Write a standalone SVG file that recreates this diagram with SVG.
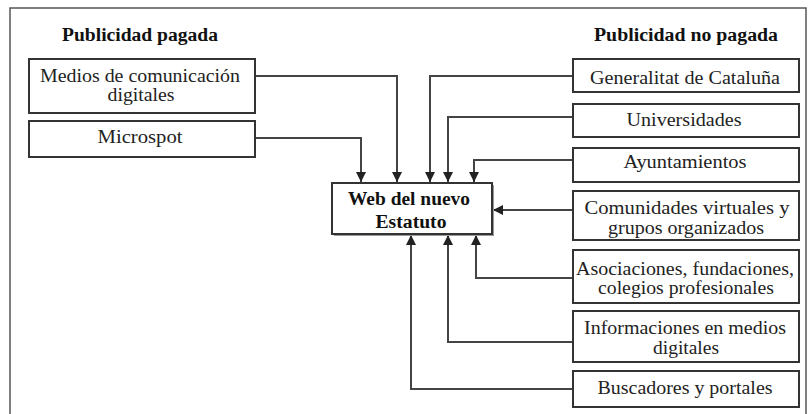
<svg xmlns="http://www.w3.org/2000/svg" width="812" height="414" viewBox="0 0 812 414">
<style>
.box{fill:#fff;stroke:#333;stroke-width:2}
.t{font-family:'Liberation Serif','DejaVu Serif','Times New Roman',serif;font-size:18px;fill:#222;text-anchor:middle}
.b{font-weight:bold;fill:#111}
.c{fill:none;stroke:#444;stroke-width:2}
</style>
<defs>
<marker id="ah" viewBox="0 0 10 10" refX="10" refY="5" markerWidth="5" markerHeight="5" orient="auto" markerUnits="strokeWidth">
<path d="M0,0 L10,5 L0,10 z" fill="#222"/>
</marker>
</defs>
<rect x="0" y="0" width="812" height="414" fill="#fff"/>
<path d="M10,420 V8 H806 V420" fill="none" stroke="#555" stroke-width="1.5"/>
<text class="t b" x="140" y="41" textLength="156" lengthAdjust="spacingAndGlyphs">Publicidad pagada</text>
<text class="t b" x="686" y="41" textLength="184" lengthAdjust="spacingAndGlyphs">Publicidad no pagada</text>
<g id="connectors">
<path class="c" d="M255,76 H397 V182" marker-end="url(#ah)"/>
<path class="c" d="M255,138 H361 V182" marker-end="url(#ah)"/>
<path class="c" d="M573,76 H430 V182" marker-end="url(#ah)"/>
<path class="c" d="M573,117 H448 V182" marker-end="url(#ah)"/>
<path class="c" d="M573,160 H474 V182" marker-end="url(#ah)"/>
<path class="c" d="M573,210 H493" marker-end="url(#ah)"/>
<path class="c" d="M573,278 H476 V235" marker-end="url(#ah)"/>
<path class="c" d="M573,342 H448 V235" marker-end="url(#ah)"/>
<path class="c" d="M573,389 H411 V235" marker-end="url(#ah)"/>
</g>
<g id="medios">
<rect class="box" x="29" y="59" width="226" height="54"/>
<text class="t" x="140" y="82" textLength="200" lengthAdjust="spacingAndGlyphs">Medios de comunicación</text>
<text class="t" x="141" y="101" textLength="67" lengthAdjust="spacingAndGlyphs">digitales</text>
</g>
<g id="microspot">
<rect class="box" x="29" y="121" width="226" height="36"/>
<text class="t" x="140" y="143" textLength="85" lengthAdjust="spacingAndGlyphs">Microspot</text>
</g>
<g id="web">
<rect x="334" y="185" width="160" height="51" fill="#999"/>
<rect class="box" x="332" y="183" width="160" height="51"/>
<text class="t b" x="409" y="205" textLength="122" lengthAdjust="spacingAndGlyphs">Web del nuevo</text>
<text class="t b" x="411" y="228" textLength="71" lengthAdjust="spacingAndGlyphs">Estatuto</text>
</g>
<g id="generalitat">
<rect class="box" x="573" y="59" width="226" height="33"/>
<text class="t" x="685" y="84" textLength="190" lengthAdjust="spacingAndGlyphs">Generalitat de Cataluña</text>
</g>
<g id="universidades">
<rect class="box" x="573" y="104" width="226" height="33"/>
<text class="t" x="684" y="126" textLength="115" lengthAdjust="spacingAndGlyphs">Universidades</text>
</g>
<g id="ayuntamientos">
<rect class="box" x="573" y="148" width="226" height="34"/>
<text class="t" x="685" y="168" textLength="123" lengthAdjust="spacingAndGlyphs">Ayuntamientos</text>
</g>
<g id="comunidades">
<rect class="box" x="573" y="191" width="226" height="49"/>
<text class="t" x="687" y="214" textLength="205" lengthAdjust="spacingAndGlyphs">Comunidades virtuales y</text>
<text class="t" x="686" y="234" textLength="156" lengthAdjust="spacingAndGlyphs">grupos organizados</text>
</g>
<g id="asociaciones">
<rect class="box" x="573" y="250" width="226" height="53"/>
<text class="t" x="685" y="275" textLength="218" lengthAdjust="spacingAndGlyphs">Asociaciones, fundaciones,</text>
<text class="t" x="686" y="294" textLength="176" lengthAdjust="spacingAndGlyphs">colegios profesionales</text>
</g>
<g id="informaciones">
<rect class="box" x="573" y="311" width="226" height="51"/>
<text class="t" x="685" y="334" textLength="202" lengthAdjust="spacingAndGlyphs">Informaciones en medios</text>
<text class="t" x="686" y="354" textLength="66" lengthAdjust="spacingAndGlyphs">digitales</text>
</g>
<g id="buscadores">
<rect class="box" x="573" y="371" width="226" height="36"/>
<text class="t" x="685" y="394" textLength="175" lengthAdjust="spacingAndGlyphs">Buscadores y portales</text>
</g>
</svg>
